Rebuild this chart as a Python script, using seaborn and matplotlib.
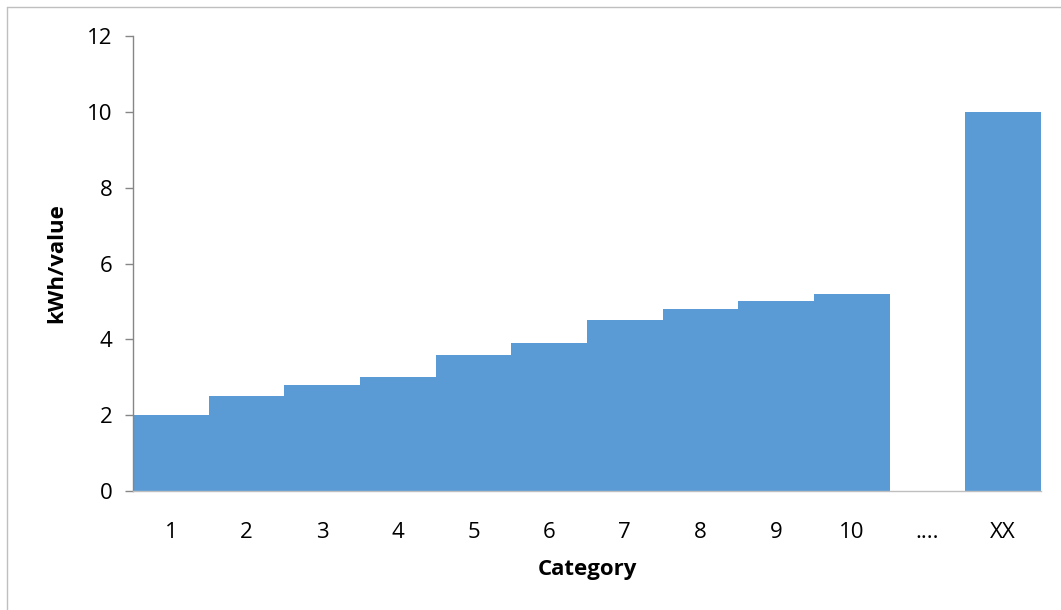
import numpy as np
import pandas as pd
import matplotlib
matplotlib.use("Agg")
import matplotlib.pyplot as plt
from matplotlib.lines import Line2D
import seaborn as sns

# data
categories = ["1", "2", "3", "4", "5", "6", "7", "8", "9", "10", "....", "XX"]
values = [2.0, 2.5, 2.8, 3.0, 3.6, 3.9, 4.5, 4.8, 5.0, 5.2, 0.0, 10.0]
y_ticks = [0, 2, 4, 6, 8, 10, 12]

df = pd.DataFrame({"Category": categories, "value": values})

sns.set_style("white")
plt.rcParams["font.family"] = ["Open Sans", "DejaVu Sans"]
plt.rcParams["text.color"] = "black"

fig = plt.figure(figsize=(10.61, 6.10), dpi=100)
ax = fig.add_axes([133 / 1061, 1 - 491 / 610, (1041 - 133) / 1061, (491 - 36) / 610])

sns.barplot(data=df, x="Category", y="value", order=categories, color="#5B9BD5",
            saturation=1, width=1.0, linewidth=0, ax=ax)

ax.set_ylim(0, 12)
ax.set_xlim(-0.5, len(categories) - 0.5)
ax.set_yticks(y_ticks)
ax.tick_params(axis="y", direction="out", length=6, width=1, color="#868686",
               labelsize=16, labelcolor="black", pad=9, left=True)
ax.tick_params(axis="x", length=0, labelsize=16, labelcolor="black", pad=22)

for s in ["top", "right"]:
    ax.spines[s].set_visible(False)
ax.spines["left"].set_color("#868686")
ax.spines["bottom"].set_color("#BFBFBF")
ax.spines["left"].set_linewidth(1)
ax.spines["bottom"].set_linewidth(1)

ax.set_xlabel("Category", fontsize=16, fontweight="bold", color="black", labelpad=12)
ax.set_ylabel("kWh/value", fontsize=16, fontweight="bold", color="black", labelpad=14)

# chart frame (only top and left edges fall inside the image)
fig.add_artist(Line2D([7 / 1061, 1.0], [1 - 7 / 610, 1 - 7 / 610], color="#BFBFBF", lw=1))
fig.add_artist(Line2D([7 / 1061, 7 / 1061], [0.0, 1 - 7 / 610], color="#BFBFBF", lw=1))

fig.savefig("out.png", dpi=100)
